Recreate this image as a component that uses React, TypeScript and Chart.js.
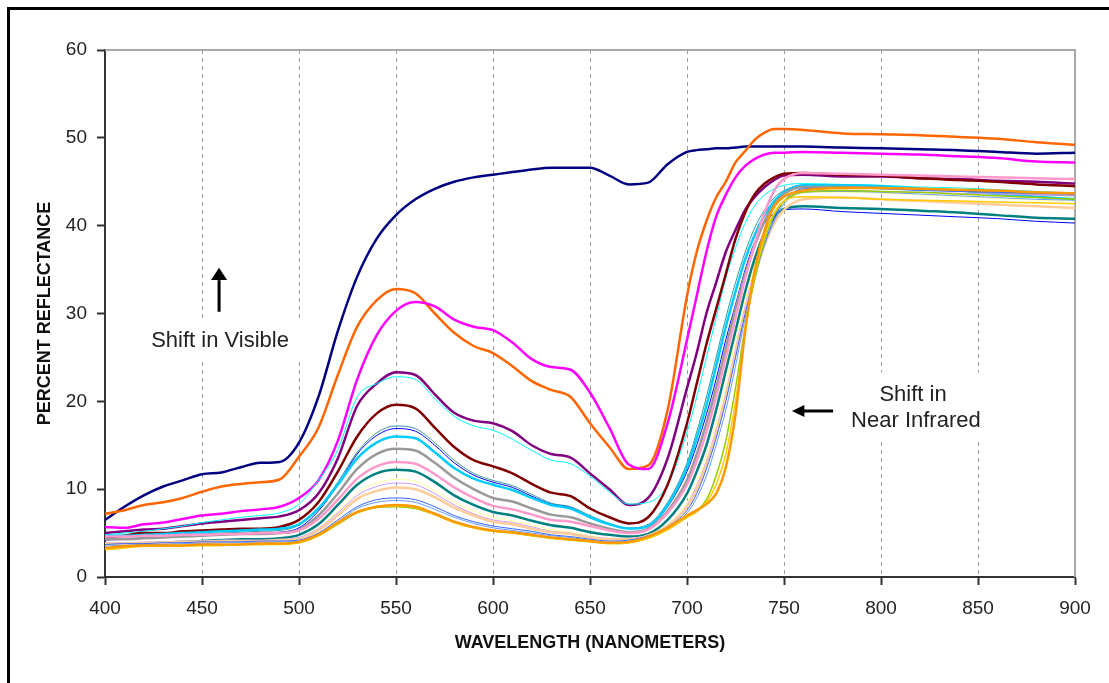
import React, { useEffect, useRef } from 'react';
import { Chart, registerables } from 'chart.js';

Chart.register(...registerables);

// Wavelength sample points (nm)
const wavelengths = [
  400, 410, 420, 430, 440, 450, 460, 470, 480, 490,
  500, 510, 520, 530, 540, 550, 560, 570, 580, 590,
  600, 610, 620, 630, 640, 650, 660, 670, 680, 690,
  700, 705, 710, 715, 720, 725, 730, 735, 740, 745,
  750, 760, 780, 800, 820, 840, 860, 880, 900,
];

const xTicks = [400, 450, 500, 550, 600, 650, 700, 750, 800, 850, 900];
const yTicks = [0, 10, 20, 30, 40, 50, 60];

// Percent reflectance per series
const navy = [
  6.5, 8.0, 9.3, 10.3, 11.0, 11.7, 11.9, 12.5, 13.0, 13.1,
  15.3, 20.5, 28.0, 34.2, 38.5, 41.2, 43.0, 44.2, 45.0, 45.5,
  45.8, 46.1, 46.4, 46.6, 46.6, 46.6, 45.7, 44.7, 44.9, 47.0,
  48.4, 48.6, 48.7, 48.8, 48.8, 48.9, 49.0, 49.0, 49.0, 49.0,
  49.0, 49.0, 48.9, 48.8, 48.7, 48.6, 48.4, 48.2, 48.3,
];
const orange = [
  7.2, 7.6, 8.2, 8.5, 9.0, 9.7, 10.3, 10.6, 10.8, 11.1,
  13.7, 17.0, 23.0, 28.5, 31.5, 32.8, 32.3, 30.0, 27.8, 26.3,
  25.5, 24.0, 22.3, 21.3, 20.5, 17.5, 14.8, 12.3, 12.7, 19.0,
  32.0, 37.0, 40.5, 43.2, 45.0, 47.2, 48.5, 49.8, 50.6, 51.0,
  51.0, 50.9, 50.5, 50.4, 50.3, 50.1, 49.9, 49.5, 49.2,
];
const magenta = [
  5.7, 5.6, 6.0, 6.2, 6.6, 7.0, 7.2, 7.5, 7.7, 8.0,
  9.0, 11.0, 15.5, 22.5, 27.5, 30.3, 31.3, 30.8, 29.3, 28.5,
  28.1, 26.7, 24.8, 23.9, 23.6, 21.0, 17.0, 12.8, 12.3, 17.5,
  27.0, 32.0, 37.0, 41.0, 43.5, 45.5, 46.8, 47.6, 48.1, 48.3,
  48.3, 48.4, 48.3, 48.2, 48.1, 47.9, 47.7, 47.3, 47.2,
];
const purple = [
  5.0, 5.2, 5.4, 5.5, 5.8, 6.1, 6.3, 6.5, 6.7, 6.9,
  7.6, 9.5, 13.5, 19.5, 22.0, 23.3, 23.0, 20.8, 18.7, 17.8,
  17.5, 16.6, 15.0, 14.0, 13.6, 11.8, 10.0, 8.2, 9.0, 13.5,
  21.5, 25.5, 30.0, 33.5, 37.0, 39.5, 41.8, 43.3, 44.4, 45.2,
  45.7, 45.8, 45.6, 45.6, 45.4, 45.3, 45.1, 45.0, 44.8,
];
const cyan = [
  4.8, 5.0, 5.2, 5.5, 5.8, 6.2, 6.5, 6.8, 7.0, 7.3,
  8.3, 11.0, 14.5, 20.5, 22.0, 22.8, 22.5, 20.3, 18.3, 17.2,
  16.7, 15.7, 14.4, 13.3, 12.9, 11.5, 9.7, 8.3, 8.5, 10.5,
  16.5, 20.5, 25.0, 29.5, 34.0, 37.5, 40.3, 42.3, 43.5, 44.2,
  44.6, 44.8, 44.7, 44.6, 44.4, 44.3, 44.1, 43.9, 43.7,
];
const maroon = [
  4.5, 4.7, 5.0, 5.0, 5.2, 5.3, 5.4, 5.5, 5.5, 5.7,
  6.5, 8.5, 12.0, 16.0, 18.6, 19.6, 19.2, 17.0, 14.8, 13.3,
  12.6, 11.8, 10.6, 9.6, 9.2, 7.8, 6.8, 6.1, 6.8, 10.5,
  17.5, 22.0, 26.5, 30.5, 34.5, 38.5, 41.5, 43.6, 44.8, 45.5,
  45.9, 46.0, 45.8, 45.7, 45.4, 45.2, 45.0, 44.7, 44.5,
];
const tealThin = [
  4.3, 4.4, 4.5, 4.7, 4.8, 4.9, 5.0, 5.1, 5.2, 5.3,
  5.9, 7.8, 10.8, 14.2, 16.4, 17.2, 16.9, 15.3, 13.3, 11.8,
  11.0, 10.4, 9.4, 8.4, 8.0, 7.0, 6.1, 5.6, 6.0, 8.5,
  13.0, 16.5, 20.5, 25.0, 29.5, 33.5, 37.0, 39.8, 41.8, 43.2,
  44.0, 44.6, 44.5, 44.4, 44.2, 44.0, 43.8, 43.6, 43.4,
];
const blue = [
  4.2, 4.3, 4.4, 4.5, 4.6, 4.7, 4.8, 4.9, 5.0, 5.1,
  5.6, 7.5, 10.5, 14.0, 16.1, 16.9, 16.6, 15.0, 13.0, 11.6,
  10.8, 10.2, 9.2, 8.3, 7.9, 6.8, 6.0, 5.5, 5.8, 8.0,
  12.0, 15.0, 18.5, 22.5, 27.0, 31.0, 35.0, 38.2, 40.3, 41.4,
  41.8, 41.9, 41.6, 41.4, 41.2, 41.0, 40.8, 40.5, 40.3,
];
const skyBlue = [
  4.7, 4.7, 4.8, 4.9, 5.0, 5.1, 5.2, 5.3, 5.4, 5.5,
  6.0, 7.8, 10.5, 13.5, 15.3, 16.0, 15.8, 14.2, 12.4, 11.2,
  10.5, 9.9, 9.0, 8.2, 7.8, 6.8, 6.0, 5.5, 5.8, 8.2,
  12.5, 15.8, 19.5, 24.0, 28.5, 32.5, 36.2, 39.0, 41.2, 42.8,
  43.8, 44.6, 44.6, 44.5, 44.2, 44.0, 43.6, 43.3, 43.0,
];
const gray = [
  4.3, 4.3, 4.4, 4.5, 4.6, 4.7, 4.8, 4.9, 4.9, 5.0,
  5.4, 7.0, 9.5, 12.3, 14.0, 14.6, 14.4, 13.0, 11.3, 10.0,
  9.0, 8.6, 7.8, 7.1, 6.8, 6.1, 5.5, 5.1, 5.5, 7.5,
  11.0, 14.0, 17.5, 21.5, 26.0, 30.5, 34.5, 37.8, 40.5, 42.4,
  43.6, 44.4, 44.4, 44.3, 44.2, 44.0, 43.8, 43.6, 43.5,
];
const pink = [
  4.6, 4.6, 4.7, 4.7, 4.8, 4.8, 4.9, 4.9, 5.0, 5.0,
  5.3, 6.6, 8.8, 11.2, 12.6, 13.1, 12.9, 11.7, 10.2, 9.0,
  8.1, 7.7, 7.1, 6.5, 6.3, 5.8, 5.3, 5.0, 5.4, 7.3,
  10.5, 13.2, 16.5, 20.5, 25.0, 29.5, 34.0, 38.0, 41.5, 44.0,
  45.3, 46.0, 45.9, 45.8, 45.7, 45.6, 45.5, 45.4, 45.3,
];
const teal = [
  3.8, 3.6, 3.8, 3.9, 4.0, 4.1, 4.2, 4.3, 4.3, 4.4,
  4.8, 6.0, 8.2, 10.5, 11.8, 12.2, 12.0, 10.8, 9.3, 8.2,
  7.4, 7.0, 6.4, 5.9, 5.6, 5.1, 4.8, 4.6, 4.9, 6.5,
  9.5, 12.0, 15.0, 19.0, 23.5, 28.0, 32.5, 36.3, 39.2, 41.0,
  41.9, 42.2, 42.0, 41.9, 41.7, 41.5, 41.2, 40.9, 40.8,
];
const lightYellow = [
  3.6, 3.7, 3.8, 3.8, 3.9, 3.9, 4.0, 4.0, 4.1, 4.1,
  4.5, 5.6, 7.5, 9.6, 10.7, 11.1, 10.9, 9.8, 8.5, 7.5,
  6.8, 6.4, 5.9, 5.4, 5.1, 4.7, 4.4, 4.4, 4.8, 6.0,
  8.5, 10.8, 13.8, 17.5, 22.0, 27.0, 31.5, 35.5, 38.8, 41.3,
  42.8, 43.8, 43.8, 43.7, 43.5, 43.3, 43.1, 42.9, 42.8,
];
const lavender = [
  3.9, 3.9, 4.0, 4.0, 4.1, 4.1, 4.2, 4.2, 4.2, 4.3,
  4.5, 5.5, 7.3, 9.3, 10.3, 10.7, 10.5, 9.5, 8.2, 7.2,
  6.5, 6.2, 5.7, 5.2, 5.0, 4.6, 4.4, 4.4, 4.8, 5.9,
  8.2, 10.4, 13.2, 16.8, 21.0, 26.0, 30.8, 35.0, 38.5, 41.2,
  42.8, 43.9, 44.0, 43.9, 43.8, 43.7, 43.6, 43.5, 43.5,
];
const tan = [
  3.8, 3.8, 3.9, 3.9, 4.0, 4.0, 4.1, 4.1, 4.1, 4.2,
  4.3, 5.3, 7.0, 8.9, 9.8, 10.2, 10.0, 9.1, 7.9, 7.0,
  6.3, 6.0, 5.5, 5.1, 4.9, 4.5, 4.3, 4.3, 4.7, 5.8,
  8.0, 10.0, 12.8, 16.3, 20.5, 25.5, 30.2, 34.5, 37.8, 40.3,
  41.8, 43.0, 43.2, 43.0, 42.8, 42.6, 42.4, 42.2, 42.0,
];
const lightBlue = [
  3.7, 3.8, 3.8, 3.9, 3.9, 4.0, 4.0, 4.0, 4.1, 4.1,
  4.2, 5.0, 6.5, 8.0, 8.8, 9.0, 8.8, 8.0, 7.0, 6.3,
  5.8, 5.5, 5.2, 4.8, 4.6, 4.3, 4.1, 4.2, 4.7, 5.7,
  7.6, 9.5, 12.3, 15.8, 20.0, 25.0, 30.0, 34.3, 38.0, 40.8,
  42.8, 44.2, 44.3, 44.2, 44.0, 43.9, 43.8, 43.7, 43.6,
];
const periwinkle = [
  3.5, 3.6, 3.7, 3.7, 3.8, 3.8, 3.9, 3.9, 3.9, 4.0,
  4.1, 4.9, 6.3, 7.8, 8.5, 8.7, 8.5, 7.7, 6.8, 6.1,
  5.6, 5.3, 5.0, 4.7, 4.5, 4.2, 4.0, 4.1, 4.6, 5.6,
  7.3, 9.0, 11.5, 15.0, 19.0, 24.0, 29.5, 34.0, 37.8, 40.5,
  42.5, 43.8, 43.9, 43.8, 43.6, 43.4, 43.2, 43.0, 42.9,
];
const lime = [
  3.2, 3.4, 3.5, 3.5, 3.6, 3.6, 3.6, 3.7, 3.7, 3.8,
  3.9, 4.7, 6.0, 7.3, 7.9, 8.0, 7.8, 7.1, 6.2, 5.6,
  5.2, 5.0, 4.7, 4.4, 4.2, 4.0, 3.8, 3.9, 4.4, 5.4,
  6.8, 7.5, 8.8, 11.5, 15.5, 21.5, 28.5, 34.0, 38.3, 41.3,
  42.8, 43.8, 44.0, 43.9, 43.8, 43.6, 43.4, 43.2, 43.0,
];
const gold = [
  3.1, 3.3, 3.5, 3.5, 3.5, 3.6, 3.6, 3.7, 3.7, 3.7,
  3.9, 4.7, 6.1, 7.4, 8.0, 8.1, 7.9, 7.1, 6.2, 5.6,
  5.2, 5.0, 4.7, 4.4, 4.2, 4.0, 3.8, 3.9, 4.4, 5.4,
  6.8, 7.4, 8.5, 10.5, 14.0, 20.0, 28.0, 34.5, 38.8, 41.5,
  42.8, 43.3, 43.2, 43.0, 42.9, 42.8, 42.7, 42.6, 42.5,
];
const orangeGold = [
  3.3, 3.5, 3.6, 3.6, 3.6, 3.7, 3.7, 3.7, 3.8, 3.8,
  4.0, 4.8, 6.2, 7.4, 8.0, 8.2, 8.0, 7.2, 6.3, 5.7,
  5.3, 5.1, 4.8, 4.5, 4.3, 4.1, 3.9, 4.0, 4.6, 5.6,
  7.0, 7.6, 8.3, 9.5, 12.5, 18.5, 28.0, 35.0, 39.5, 42.2,
  43.3, 44.0, 44.3, 44.3, 44.2, 44.1, 44.0, 43.8, 43.7,
];

const series = [
  { name: 'Sample 1', values: navy, color: '#000080', width: 2.5 },
  { name: 'Sample 2', values: orange, color: '#FF6600', width: 2.5 },
  { name: 'Sample 3', values: magenta, color: '#FF00FF', width: 2.5 },
  { name: 'Sample 4', values: purple, color: '#800080', width: 2.5 },
  { name: 'Sample 5', values: cyan, color: '#00FFFF', width: 1 },
  { name: 'Sample 6', values: maroon, color: '#800000', width: 2.5 },
  { name: 'Sample 7', values: tealThin, color: '#339999', width: 1 },
  { name: 'Sample 8', values: blue, color: '#0000FF', width: 1 },
  { name: 'Sample 9', values: skyBlue, color: '#00CCFF', width: 2.5 },
  { name: 'Sample 10', values: gray, color: '#999999', width: 2.5 },
  { name: 'Sample 11', values: pink, color: '#FF99CC', width: 2.5 },
  { name: 'Sample 12', values: teal, color: '#008080', width: 2.5 },
  { name: 'Sample 13', values: lightYellow, color: '#FFFF99', width: 1 },
  { name: 'Sample 14', values: lavender, color: '#CC99FF', width: 1 },
  { name: 'Sample 15', values: tan, color: '#FFCC99', width: 2.5 },
  { name: 'Sample 16', values: lightBlue, color: '#3366FF', width: 1 },
  { name: 'Sample 17', values: periwinkle, color: '#6699FF', width: 1 },
  { name: 'Sample 18', values: lime, color: '#99CC00', width: 1.5 },
  { name: 'Sample 19', values: gold, color: '#FFCC00', width: 1.5 },
  { name: 'Sample 20', values: orangeGold, color: '#FF9900', width: 2.5 },
];

const FONT = "'Liberation Sans', Arial, sans-serif";

const annotationPlugin = {
  id: 'annotations',
  beforeDatasetsDraw(chart: any) {
    const { ctx, chartArea: a } = chart;
    const xs = chart.scales.x;
    const ys = chart.scales.y;
    const px = (v: number) => xs.getPixelForValue(v);
    const py = (v: number) => ys.getPixelForValue(v);
    ctx.save();
    // plot area top/right border
    ctx.strokeStyle = '#a8a8a8';
    ctx.lineWidth = 2;
    ctx.beginPath();
    ctx.moveTo(a.left, a.top);
    ctx.lineTo(a.right, a.top);
    ctx.lineTo(a.right, a.bottom);
    ctx.stroke();

    // white label backgrounds
    ctx.fillStyle = '#ffffff';
    ctx.fillRect(px(418), py(29.5), px(503) - px(418), py(24.6) - py(29.5));
    ctx.fillRect(px(778), py(23.3), px(859) - px(778), py(15.6) - py(23.3));

    // labels
    ctx.fillStyle = '#222';
    ctx.font = `22px ${FONT}`;
    ctx.textAlign = 'center';
    ctx.textBaseline = 'alphabetic';
    ctx.fillText('Shift in Visible', px(459.3), py(26.2));
    ctx.fillText('Shift in', px(816.5), py(20.0));
    ctx.fillText('Near Infrared', px(818), py(17.1));

    // up arrow
    ctx.fillStyle = '#000';
    ctx.strokeStyle = '#000';
    ctx.lineWidth = 3;
    const ax = px(458.8);
    ctx.beginPath();
    ctx.moveTo(ax, py(30.2));
    ctx.lineTo(ax, py(33.8));
    ctx.stroke();
    ctx.beginPath();
    ctx.moveTo(ax, py(35.2));
    ctx.lineTo(ax - 8, py(33.8));
    ctx.lineTo(ax + 8, py(33.8));
    ctx.closePath();
    ctx.fill();

    // left arrow
    const ay = py(18.9);
    ctx.beginPath();
    ctx.moveTo(px(775.3), ay);
    ctx.lineTo(px(759.5), ay);
    ctx.stroke();
    ctx.beginPath();
    ctx.moveTo(px(754.1), ay);
    ctx.lineTo(px(760.5), ay - 6);
    ctx.lineTo(px(760.5), ay + 6);
    ctx.closePath();
    ctx.fill();
    ctx.restore();
  },
};

export default function App() {
  const ref = useRef<HTMLCanvasElement>(null);

  useEffect(() => {
    if (!ref.current) return;
    Chart.defaults.font.family = FONT;
    const chart = new Chart(ref.current, {
      type: 'line',
      data: {
        datasets: series.map((s, i) => ({
          label: s.name,
          data: wavelengths.map((w, j) => ({ x: w, y: s.values[j] })),
          borderColor: s.color,
          backgroundColor: s.color,
          borderWidth: s.width,
          pointRadius: 0,
          fill: false,
          cubicInterpolationMode: 'monotone' as const,
          order: series.length - i,
        })),
      },
      options: {
        responsive: false,
        animation: false,
        layout: { padding: { left: 0, right: 34, top: 50, bottom: 0 } },
        plugins: {
          legend: { display: false },
          tooltip: { enabled: false },
        },
        scales: {
          x: {
            type: 'linear',
            min: 400,
            max: 900,
            afterBuildTicks: (scale: any) => {
              scale.ticks = xTicks.map((v) => ({ value: v }));
            },
            ticks: { color: '#222', font: { size: 19 }, padding: 12, autoSkip: false, maxRotation: 0 },
            grid: {
              color: (c: any) =>
                c.tick && (c.tick.value === 400 || c.tick.value === 900) ? 'rgba(0,0,0,0)' : '#9a9a9a',
              lineWidth: 1,
              tickColor: '#333',
              tickLength: 8,
              tickWidth: 2,
            },
            border: { display: true, color: '#333', width: 2, dash: [4, 4] },
            title: {
              display: true,
              text: 'WAVELENGTH (NANOMETERS)',
              color: '#111',
              font: { size: 18, weight: 'bold' },
              padding: { top: 0, bottom: 29 },
            },
            afterFit: (scale: any) => {
              scale.height = 106;
            },
          },
          y: {
            type: 'linear',
            min: 0,
            max: 60,
            afterBuildTicks: (scale: any) => {
              scale.ticks = yTicks.map((v) => ({ value: v }));
            },
            ticks: { color: '#222', font: { size: 19 }, padding: 10 },
            grid: {
              drawOnChartArea: false,
              drawTicks: true,
              tickColor: '#333',
              tickLength: 8,
              tickWidth: 2,
            },
            border: { display: true, color: '#333', width: 2 },
            title: {
              display: true,
              text: 'PERCENT REFLECTANCE',
              color: '#111',
              font: { size: 18, weight: 'bold' },
              padding: { top: 34, bottom: 0 },
            },
            afterFit: (scale: any) => {
              scale.width = 105;
            },
          },
        },
      } as any,
      plugins: [annotationPlugin],
    });
    return () => chart.destroy();
  }, []);

  return (
    <div
      style={{
        position: 'fixed',
        left: 0,
        top: 0,
        width: 1109,
        height: 683,
        background: '#fff',
        overflow: 'hidden',
      }}
    >
      <div
        style={{
          position: 'absolute',
          left: 7,
          top: 7,
          width: 1200,
          height: 800,
          borderLeft: '3px solid #000',
          borderTop: '3px solid #000',
        }}
      />
      <canvas ref={ref} width={1109} height={683} style={{ position: 'absolute', left: 0, top: 0 }} />
    </div>
  );
}
